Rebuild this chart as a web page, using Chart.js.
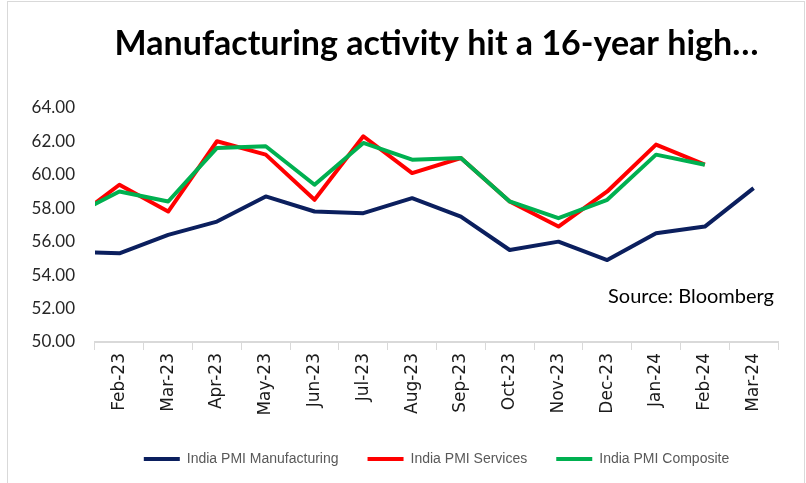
<!DOCTYPE html>
<html>
<head>
<meta charset="utf-8">
<script src="https://cdn.jsdelivr.net/npm/chart.js@4.4.1/dist/chart.umd.min.js"></script>
<style>
  html, body { margin: 0; padding: 0; background: #fff; }
  #wrap { position: relative; width: 806px; height: 483px; overflow: hidden; }
  #frame { position: absolute; left: 7px; top: 1px; width: 798px; height: 500px; border: 1px solid #d9d9d9; box-sizing: border-box; }
  #source { position: absolute; left: 608px; top: 283px; font: 20px Lato, sans-serif; color: #000; white-space: nowrap; }
  #chart { position: absolute; left: 0; top: 0; }
</style>
</head>
<body>
<div id="wrap">
  <div id="frame"></div>
  <canvas id="chart" width="806" height="483"></canvas>
  <div id="source">Source: Bloomberg</div>
</div>
<script>
// monthly PMI readings, Jan-23 sits just off the left edge of the axis
const months = ['Jan-23', 'Feb-23', 'Mar-23', 'Apr-23', 'May-23', 'Jun-23', 'Jul-23', 'Aug-23',
  'Sep-23', 'Oct-23', 'Nov-23', 'Dec-23', 'Jan-24', 'Feb-24', 'Mar-24'];
const manufacturing = [55.4, 55.3, 56.4, 57.2, 58.7, 57.8, 57.7, 58.6, 57.5, 55.5, 56.0, 54.9, 56.5, 56.9, 59.2];
const services = [57.2, 59.4, 57.8, 62.0, 61.2, 58.5, 62.3, 60.1, 61.0, 58.4, 56.9, 59.0, 61.8, 60.6];
const composite = [57.5, 59.0, 58.4, 61.6, 61.7, 59.4, 61.9, 60.9, 61.0, 58.4, 57.4, 58.5, 61.2, 60.6];

function line(label, data, color, order) {
  return {
    label: label,
    data: data,
    borderColor: color,
    backgroundColor: color,
    borderWidth: 4,
    borderJoinStyle: 'round',
    pointRadius: 0,
    tension: 0,
    order: order
  };
}

new Chart(document.getElementById('chart'), {
  type: 'line',
  data: {
    labels: months,
    datasets: [
      line('India PMI Manufacturing', manufacturing, '#0b1f5e', 2),
      line('India PMI Services', services, '#ff0000', 1),
      line('India PMI Composite', composite, '#00b050', 0)
    ]
  },
  options: {
    responsive: false,
    animation: false,
    layout: { padding: { left: 8, right: 28, top: 0, bottom: 7 } },
    scales: {
      x: {
        type: 'category',
        min: 'Feb-23',
        offset: true,
        grid: { display: true, drawOnChartArea: false, offset: true, color: '#d9d9d9', tickLength: 8 },
        border: { color: '#d9d9d9', width: 2 },
        ticks: {
          autoSkip: false, minRotation: 90, maxRotation: 90, padding: 3,
          color: '#1a1a1a', font: { family: 'DejaVu Sans', size: 17 }
        },
        afterFit: s => { s.height = 81; }
      },
      y: {
        min: 50,
        max: 64,
        grid: { display: false, drawTicks: false },
        border: { display: false },
        ticks: {
          stepSize: 2, padding: 20, color: '#262626',
          font: { family: 'Lato', size: 17 },
          callback: v => v.toFixed(2)
        },
        afterFit: s => { s.width = 87; }
      }
    },
    plugins: {
      title: {
        display: true,
        fullSize: false,
        text: 'Manufacturing activity hit a 16-year high…',
        color: '#000',
        font: { family: 'Lato', size: 34, weight: 'bold' },
        padding: { top: 24, bottom: 43 }
      },
      legend: {
        position: 'bottom',
        fullSize: false,
        maxHeight: 60,
        labels: {
          usePointStyle: true,
          pointStyle: 'line',
          pointStyleWidth: 36,
          padding: 29,
          color: '#595959',
          font: { family: 'Liberation Sans', size: 14 },
          sort: (a, b) => a.datasetIndex - b.datasetIndex
        }
      },
      tooltip: { enabled: false }
    }
  }
});
</script>
</body>
</html>
